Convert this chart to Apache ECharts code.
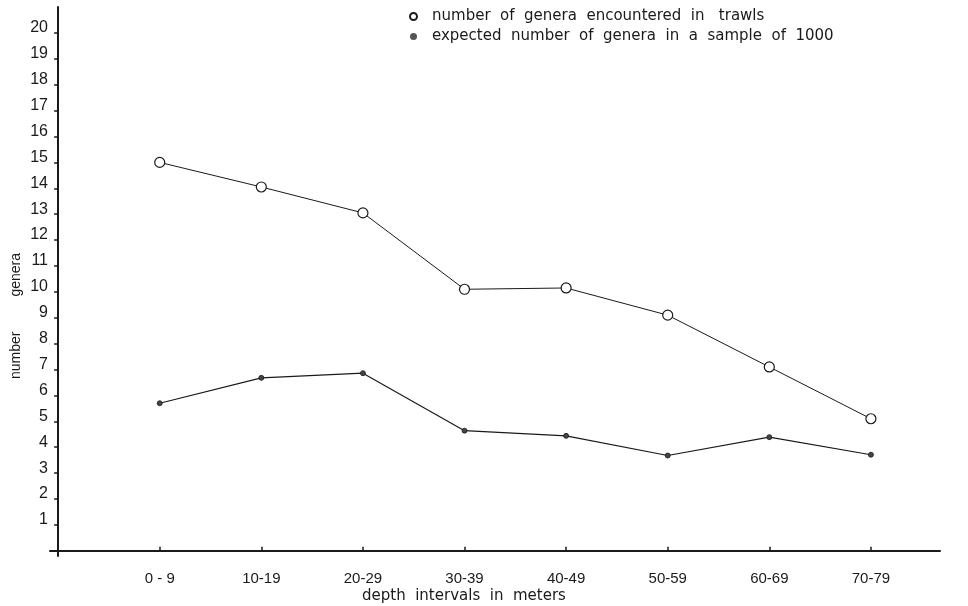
<!DOCTYPE html>
<html><head><meta charset="utf-8">
<script src="https://cdn.jsdelivr.net/npm/echarts@6/dist/echarts.min.js"></script>
<style>html,body{margin:0;padding:0;background:#fff}#c{width:968px;height:606px}</style>
</head><body><div id="c"></div>
<script>
const categories = ['0 - 9','10-19','20-29','30-39','40-49','50-59','60-69','70-79'];
const generaInTrawls = [15, 14.05, 13.05, 10.1, 10.15, 9.1, 7.1, 5.1];
const expectedIn1000 = [5.7, 6.68, 6.86, 4.64, 4.44, 3.68, 4.39, 3.71];
const yTickLabels = [1,2,3,4,5,6,7,8,9,10,11,12,13,14,15,16,17,18,19,20];
const seriesNames = ['number  of  genera  encountered  in   trawls', 'expected  number  of  genera  in  a  sample  of  1000'];

const ink = '#1a1a1a';
const font = 'Liberation Sans';
const wfont = 'DejaVu Sans';
const catPos = categories.map((c, i) => i + 1);

const chart = echarts.init(document.getElementById('c'), null, {renderer: 'canvas'});
chart.setOption({
  backgroundColor: '#fff',
  animation: false,
  grid: {left: 50, right: 28, top: 7, bottom: 50, containLabel: false},
  xAxis: {
    type: 'value', min: -0.08, max: 8.68,
    axisLine: {onZero: true, lineStyle: {color: ink, width: 2}},
    axisTick: {inside: true, length: 4, customValues: catPos, lineStyle: {color: ink, width: 1.5}},
    splitLine: {show: false},
    axisLabel: {customValues: catPos, margin: 15, color: ink, fontFamily: font, fontSize: 15,
      formatter: v => categories[Math.round(v) - 1] || ''}
  },
  yAxis: {
    type: 'value', min: -0.2, max: 21,
    axisLine: {onZero: true, lineStyle: {color: ink, width: 2}},
    axisTick: {length: 4, customValues: yTickLabels, lineStyle: {color: ink, width: 1.5}},
    splitLine: {show: false},
    axisLabel: {customValues: yTickLabels, margin: 2, color: ink, fontFamily: font, fontSize: 16,
      verticalAlign: 'bottom', lineHeight: 10}
  },
  legend: {
    orient: 'vertical', left: 404, top: 3, itemGap: 3, itemWidth: 7, itemHeight: 7,
    textStyle: {color: ink, fontFamily: wfont, fontSize: 15, padding: [0, 0, 0, 10], lineHeight: 17},
    data: [
      {name: seriesNames[0], icon: 'emptyCircle', itemStyle: {color: ink, borderColor: ink, borderWidth: 1}},
      {name: seriesNames[1], icon: 'circle', itemStyle: {color: '#555', borderColor: '#555', borderWidth: 0}}
    ]
  },
  graphic: [
    {type: 'text', left: 9, top: 253, rotation: Math.PI / 2,
      style: {text: 'number         genera', font: '14px "Liberation Sans"', fill: ink}},
    {type: 'text', left: 362, top: 589,
      style: {text: 'depth  intervals  in  meters', font: '15px "DejaVu Sans"', fill: ink}}
  ],
  series: [
    {name: seriesNames[0], type: 'line', data: generaInTrawls.map((v, i) => [catPos[i], v]),
      symbol: 'circle', symbolSize: 10,
      lineStyle: {color: ink, width: 1},
      itemStyle: {color: '#fff', borderColor: ink, borderWidth: 1.2}},
    {name: seriesNames[1], type: 'line', data: expectedIn1000.map((v, i) => [catPos[i], v]),
      symbol: 'circle', symbolSize: 5,
      lineStyle: {color: ink, width: 1.2},
      itemStyle: {color: '#444', borderColor: ink, borderWidth: 0.8}}
  ]
});
</script></body></html>
